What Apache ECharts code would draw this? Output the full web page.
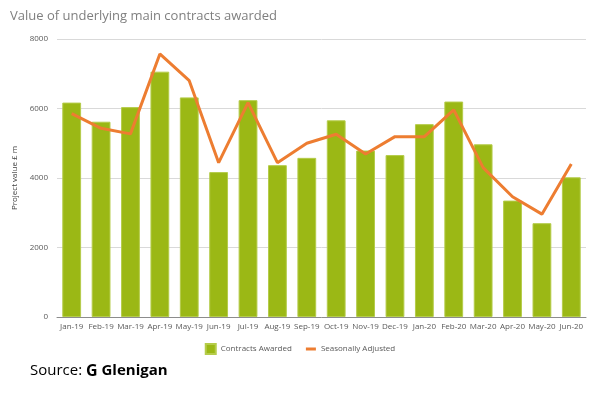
<!DOCTYPE html>
<html><head><meta charset="utf-8">
<script src="https://cdn.jsdelivr.net/npm/echarts@6/dist/echarts.min.js"></script>
<style>html,body{margin:0;padding:0;background:#fff}#c{width:600px;height:401px}</style>
</head><body><div id="c"></div>
<script>
const categories = ["Jan-19","Feb-19","Mar-19","Apr-19","May-19","Jun-19","Jul-19","Aug-19","Sep-19","Oct-19","Nov-19","Dec-19","Jan-20","Feb-20","Mar-20","Apr-20","May-20","Jun-20"];
const contractsAwarded = [6170,5620,6040,7060,6320,4170,6240,4370,4580,5660,4790,4660,5550,6200,4970,3350,2700,4020];
const seasonallyAdjusted = [5850,5430,5270,7570,6800,4440,6170,4440,5000,5260,4690,5190,5190,5960,4300,3460,2960,4400];
const yTicks = [0,2000,4000,6000,8000];

const chart = echarts.init(document.getElementById('c'), null, {renderer:'canvas'});
const font = 'Open Sans';
chart.setOption({
  animation:false,
  title:{
    text:'Value of underlying main contracts awarded',
    left:5, top:5,
    textStyle:{fontFamily:font,fontSize:13,fontWeight:'normal',color:'#7f7f7f'}
  },
  graphic:[{
    type:'text', left:30, top:363,
    style:{
      text:'{a|Source: }{g|G}{b| Glenigan}',
      rich:{
        a:{fontFamily:font,fontSize:15,color:'#000'},
        g:{fontFamily:font,fontSize:16,fontWeight:'bold',color:'#7ab51d'},
        b:{fontFamily:font,fontSize:15,fontWeight:'bold',color:'#1a1a1a'}
      }
    }
  }],
  legend:{
    top:338, left:'center',
    itemWidth:10, itemHeight:10, itemGap:14, symbolKeepAspect:true,
    textStyle:{fontFamily:font,fontSize:8,color:'#595959'},
    data:[{name:'Contracts Awarded',icon:'rect'},
          {name:'Seasonally Adjusted',icon:'path://M0,0 L10,0 L10,3 L0,3 Z'}]
  },
  grid:{left:57,right:14,top:39,bottom:84},
  xAxis:{
    type:'category', data:categories,
    axisLine:{lineStyle:{color:'#8c8c8c',width:1}},
    axisTick:{show:false},
    axisLabel:{fontFamily:font,fontSize:8,color:'#595959',interval:0,margin:6}
  },
  yAxis:{
    type:'value', min:yTicks[0], max:yTicks[yTicks.length-1], interval:2000,
    name:'Project value £ m', nameLocation:'middle', nameGap:38, nameRotate:90,
    nameTextStyle:{fontFamily:font,fontSize:8,color:'#404040'},
    axisLine:{show:false}, axisTick:{show:false},
    axisLabel:{fontFamily:font,fontSize:8,color:'#595959',margin:9,formatter:v=>String(v)},
    splitLine:{lineStyle:{color:'#d9d9d9',width:1}}
  },
  series:[
    {name:'Contracts Awarded',type:'bar',data:contractsAwarded,barCategoryGap:'36%',
     itemStyle:{color:'#9bb815',borderColor:'#b5cc4a',borderWidth:1}},
    {name:'Seasonally Adjusted',type:'line',data:seasonallyAdjusted,symbol:'none',
     itemStyle:{color:'#ed7d31'},
     lineStyle:{color:'#ed7d31',width:3}}
  ]
});
</script></body></html>
